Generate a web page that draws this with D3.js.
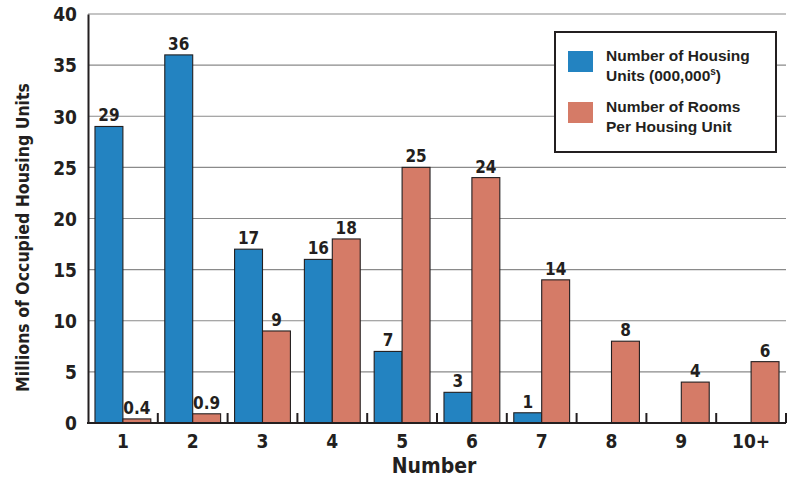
<!DOCTYPE html>
<html>
<head>
<meta charset="utf-8">
<script src="https://cdn.jsdelivr.net/npm/d3@7"></script>
<style>
  body { margin: 0; background: #fff; }
  .cond { font-family: "Liberation Sans Narrow", "DejaVu Sans Condensed", "Liberation Sans", sans-serif; font-weight: bold; }
  .legend text { font-family: "Liberation Sans", Arial, sans-serif; font-weight: bold; }
</style>
</head>
<body>
<div id="chart"></div>
<script>
// chart data
const categories = ["1", "2", "3", "4", "5", "6", "7", "8", "9", "10+"];
const housingUnits = [29, 36, 17, 16, 7, 3, 1, null, null, null];
const roomsPerUnit = [0.4, 0.9, 9, 18, 25, 24, 14, 8, 4, 6];
const yTicks = [0, 5, 10, 15, 20, 25, 30, 35, 40];

const width = 788, height = 479;
const margin = {top: 14, right: 2, bottom: 55, left: 88};

const blue = "#2383c1", red = "#d57b67", ink = "#231f20";

const svg = d3.select("#chart").append("svg")
  .attr("width", width)
  .attr("height", height);

const x = d3.scaleBand()
  .domain(categories)
  .range([margin.left, width - margin.right])
  .paddingInner(0)
  .paddingOuter(0);

const sub = d3.scaleBand()
  .domain(["units", "rooms"])
  .range([0, x.bandwidth()])
  .paddingInner(0)
  .paddingOuter(0.25);

const y = d3.scaleLinear()
  .domain([0, 40])
  .range([height - margin.bottom - 1, margin.top]);

// gridlines
svg.append("g")
  .selectAll("line")
  .data(yTicks.filter(d => d > 0))
  .enter().append("line")
  .attr("x1", margin.left)
  .attr("x2", width - margin.right)
  .attr("y1", d => y(d))
  .attr("y2", d => y(d))
  .style("stroke", "#8a8a8a")
  .style("stroke-width", 1.2);

// bars
const series = [
  {key: "units", values: housingUnits, color: blue},
  {key: "rooms", values: roomsPerUnit, color: red}
];

const fmt = v => Number.isInteger(v) ? d3.format("d")(v) : d3.format(".1f")(v);

series.forEach(s => {
  const data = categories.map((c, i) => ({cat: c, value: s.values[i]})).filter(d => d.value != null);
  const g = svg.append("g").attr("class", "bars-" + s.key);
  g.selectAll("rect")
    .data(data)
    .enter().append("rect")
    .attr("x", d => x(d.cat) + sub(s.key))
    .attr("width", sub.bandwidth())
    .attr("y", d => y(d.value))
    .attr("height", d => y(0) - y(d.value))
    .style("fill", s.color)
    .style("stroke", ink)
    .style("stroke-width", 1.1);
  g.selectAll("text")
    .data(data)
    .enter().append("text")
    .attr("class", "cond")
    .attr("x", d => x(d.cat) + sub(s.key) + sub.bandwidth() / 2)
    .attr("y", d => y(d.value) - 5)
    .attr("text-anchor", "middle")
    .style("font-size", "17px")
    .style("fill", ink)
    .text(d => fmt(d.value));
});

// y axis
const yAxis = svg.append("g")
  .attr("transform", "translate(" + margin.left + ",0)")
  .call(d3.axisLeft(y).tickValues(yTicks).tickSize(0).tickPadding(11));
yAxis.select(".domain").style("stroke", ink).style("stroke-width", 2);
yAxis.selectAll("text")
  .attr("class", "cond")
  .attr("dy", "0.36em")
  .style("font-size", "19px")
  .style("fill", ink);

// x axis
const xAxis = svg.append("g")
  .attr("transform", "translate(0," + y(0) + ")")
  .call(d3.axisBottom(x).tickSize(0).tickPadding(12));
xAxis.select(".domain").remove();
xAxis.selectAll("text")
  .attr("class", "cond")
  .style("font-size", "19px")
  .style("fill", ink);

svg.append("line")
  .attr("x1", margin.left - 1)
  .attr("x2", width - margin.right)
  .attr("y1", y(0))
  .attr("y2", y(0))
  .style("stroke", ink)
  .style("stroke-width", 2.2);

// small ticks at the band boundaries
svg.append("g")
  .selectAll("line")
  .data(categories)
  .enter().append("line")
  .attr("x1", d => x(d) + x.bandwidth())
  .attr("x2", d => x(d) + x.bandwidth())
  .attr("y1", y(0))
  .attr("y2", y(0) - 10)
  .style("stroke", ink)
  .style("stroke-width", 2);

// axis titles
svg.append("text")
  .attr("class", "cond")
  .attr("transform", "translate(29," + ((margin.top + y(0)) / 2 + 19) + ") rotate(-90)")
  .attr("text-anchor", "middle")
  .style("font-size", "17.5px")
  .style("fill", ink)
  .text("Millions of Occupied Housing Units");

svg.append("text")
  .attr("class", "cond")
  .attr("x", 434)
  .attr("y", 473)
  .attr("text-anchor", "middle")
  .style("font-size", "21px")
  .style("fill", ink)
  .text("Number");

// legend
const legend = svg.append("g").attr("class", "legend");
legend.append("rect")
  .attr("x", 555)
  .attr("y", 32)
  .attr("width", 221)
  .attr("height", 120)
  .style("fill", "#fff")
  .style("stroke", ink)
  .style("stroke-width", 2);

const legendItems = [
  {color: blue, lines: ["Number of Housing", "Units (000,000"], sup: "s"},
  {color: red, lines: ["Number of Rooms", "Per Housing Unit"]}
];

legendItems.forEach((item, i) => {
  const top = 51 + i * 51;
  legend.append("rect")
    .attr("x", 568)
    .attr("y", top)
    .attr("width", 25)
    .attr("height", 21)
    .style("fill", item.color);
  item.lines.forEach((line, j) => {
    const t = legend.append("text")
      .attr("x", 606)
      .attr("y", top + 10 + j * 19.5)
      .style("font-size", "15.5px")
      .style("fill", ink)
      .text(line);
    if (item.sup && j === 1) {
      t.append("tspan").attr("dy", -6).style("font-size", "10px").text(item.sup);
      t.append("tspan").attr("dy", 6).text(")");
    }
  });
});
</script>
</body>
</html>
